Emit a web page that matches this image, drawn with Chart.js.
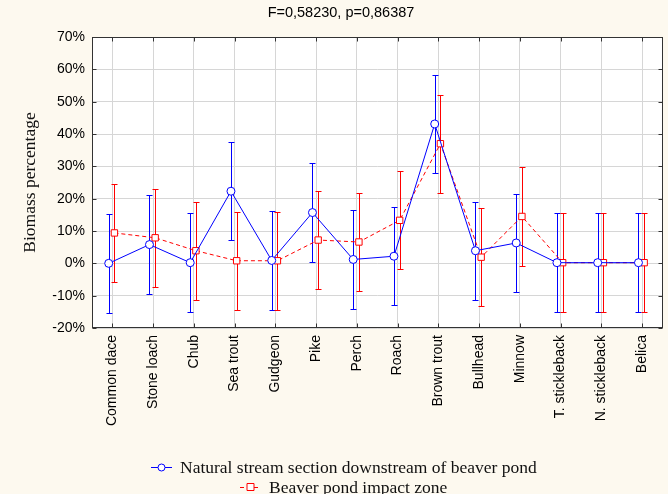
<!DOCTYPE html>
<html>
<head>
<meta charset="utf-8">
<script src="https://cdn.jsdelivr.net/npm/chart.js@4/dist/chart.umd.min.js"></script>
<style>
html, body { margin: 0; padding: 0; background: #fdf9ef; }
#wrap { width: 668px; height: 494px; position: relative; }
</style>
</head>
<body>
<div id="wrap"><canvas id="myChart"></canvas></div>
<script>
var titleText = 'F=0,58230, p=0,86387';
var species = ['Common dace', 'Stone loach', 'Chub', 'Sea trout', 'Gudgeon', 'Pike', 'Perch',
    'Roach', 'Brown trout', 'Bullhead', 'Minnow', 'T. stickleback', 'N. stickleback', 'Belica'];
// mean biomass percentage and +/- error
var natural = [0, 5.8, 0.2, 22.3, 0.9, 15.7, 1.2, 2.2, 43.1, 3.9, 6.3, 0.2, 0.2, 0.2];
var naturalErr = [15.3, 15.2, 15.3, 15.2, 15.2, 15.2, 15.2, 15.2, 15.2, 15.2, 15.2, 15.3, 15.3, 15.3];
var impact = [9.4, 7.9, 3.9, 0.8, 0.8, 7.2, 6.6, 13.3, 37.0, 1.9, 14.5, 0.2, 0.2, 0.2];
var impactErr = [15.2, 15.2, 15.2, 15.2, 15.2, 15.2, 15.2, 15.2, 15.2, 15.2, 15.2, 15.3, 15.3, 15.3];
var yMin = -20, yMax = 70, yStep = 10;

var sans = "'Liberation Sans', Arial, sans-serif";
var serif = "'Liberation Serif', 'Times New Roman', serif";

function pts(vals, shift) {
    return vals.map(function (v, i) { return { x: i + shift, y: v }; });
}

var chartBg = {
    id: 'chartBg',
    beforeDraw: function (chart) {
        var ctx = chart.ctx, a = chart.chartArea;
        ctx.save();
        ctx.fillStyle = '#fdf9ef';
        ctx.fillRect(0, 0, chart.width, chart.height);
        ctx.fillStyle = '#ffffff';
        ctx.fillRect(a.left, a.top, a.right - a.left, a.bottom - a.top);
        ctx.restore();
    }
};

var errorBars = {
    id: 'errorBars',
    beforeDatasetsDraw: function (chart) {
        var ctx = chart.ctx, xs = chart.scales.x, ys = chart.scales.y;
        chart.data.datasets.forEach(function (ds) {
            ctx.save();
            ctx.strokeStyle = ds.borderColor;
            ctx.lineWidth = 1;
            ds.data.forEach(function (p, i) {
                var px = Math.round(xs.getPixelForValue(p.x)) + 0.5;
                var top = Math.round(ys.getPixelForValue(p.y + ds.err[i])) + 0.5;
                var bot = Math.round(ys.getPixelForValue(p.y - ds.err[i])) + 0.5;
                ctx.beginPath();
                ctx.moveTo(px, top); ctx.lineTo(px, bot);
                ctx.moveTo(px - 3, top); ctx.lineTo(px + 3, top);
                ctx.moveTo(px - 3, bot); ctx.lineTo(px + 3, bot);
                ctx.stroke();
            });
            ctx.restore();
        });
    }
};

var frameAndText = {
    id: 'frameAndText',
    afterDraw: function (chart) {
        var ctx = chart.ctx, a = chart.chartArea, xs = chart.scales.x, ys = chart.scales.y;
        ctx.save();
        // frame with inward ticks
        ctx.strokeStyle = '#333333';
        ctx.lineWidth = 1;
        var l = Math.round(a.left) + 0.5, r = Math.round(a.right) - 0.5;
        var t = Math.round(a.top) + 0.5, b = Math.round(a.bottom) - 0.5;
        ctx.strokeRect(l, t, r - l, b - t);
        ctx.beginPath();
        species.forEach(function (s, i) {
            var px = Math.round(xs.getPixelForValue(i)) + 0.5;
            ctx.moveTo(px, t); ctx.lineTo(px, t + 4);
            ctx.moveTo(px, b); ctx.lineTo(px, b - 4);
        });
        for (var v = yMin; v <= yMax; v += yStep) {
            var py = Math.round(ys.getPixelForValue(v)) + 0.5;
            ctx.moveTo(l, py); ctx.lineTo(l + 4, py);
            ctx.moveTo(r, py); ctx.lineTo(r - 4, py);
        }
        ctx.stroke();

        // title
        ctx.fillStyle = '#000000';
        ctx.font = '14.5px ' + sans;
        ctx.textAlign = 'center';
        ctx.textBaseline = 'middle';
        ctx.fillText(titleText, 341, 13);

        // legend
        var ds = chart.data.datasets;
        var rows = [467, 487];
        ctx.font = '17.5px ' + serif;
        ctx.textAlign = 'left';
        ds.forEach(function (d, k) {
            var w = ctx.measureText(d.label).width;
            var x0 = Math.round(344 - (w + 29) / 2), y0 = rows[k];
            ctx.strokeStyle = d.borderColor;
            ctx.setLineDash(d.borderDash || []);
            ctx.beginPath();
            ctx.moveTo(x0, y0 + 0.5); ctx.lineTo(x0 + 21, y0 + 0.5);
            ctx.stroke();
            ctx.setLineDash([]);
            ctx.fillStyle = '#ffffff';
            ctx.beginPath();
            if (d.pointStyle === 'rect') {
                ctx.rect(x0 + 7, y0 - 3.5, 7, 7);
            } else {
                ctx.arc(x0 + 10.5, y0 + 0.5, 3.5, 0, Math.PI * 2);
            }
            ctx.fill();
            ctx.stroke();
            ctx.fillStyle = '#111111';
            ctx.fillText(d.label, x0 + 29, y0 + 1);
        });
        ctx.restore();
    }
};

var ctx = document.getElementById('myChart').getContext('2d');
var myChart = new Chart(ctx, {
    type: 'line',
    data: {
        datasets: [{
            label: 'Natural stream section downstream of beaver pond',
            data: pts(natural, -0.09),
            err: naturalErr,
            borderColor: '#0000ff',
            borderWidth: 1,
            backgroundColor: '#ffffff',
            pointStyle: 'circle',
            pointRadius: 4,
            pointBorderWidth: 1,
            pointBackgroundColor: '#ffffff',
            tension: 0
        }, {
            label: 'Beaver pond impact zone',
            data: pts(impact, 0.05),
            err: impactErr,
            borderColor: '#ff0000',
            borderWidth: 1,
            borderDash: [4, 3],
            backgroundColor: '#ffffff',
            pointStyle: 'rect',
            pointRadius: 4.5,
            pointBorderWidth: 1,
            pointBackgroundColor: '#ffffff',
            tension: 0
        }]
    },
    options: {
        responsive: true,
        maintainAspectRatio: false,
        animation: false,
        layout: { padding: { top: 37, right: 5, left: 0, bottom: 0 } },
        plugins: {
            legend: { display: false },
            title: { display: false },
            tooltip: { enabled: false }
        },
        scales: {
            x: {
                type: 'linear',
                min: -0.5,
                max: 13.5,
                afterBuildTicks: function (scale) {
                    scale.ticks = species.map(function (s, i) { return { value: i }; });
                },
                afterFit: function (scale) { scale.height = 494 - 328; },
                grid: { color: '#d6d6d6', drawTicks: false },
                border: { display: false },
                ticks: {
                    autoSkip: false,
                    maxRotation: 90,
                    minRotation: 90,
                    padding: 7,
                    color: '#000000',
                    font: { family: sans, size: 14 },
                    callback: function (v) { return species[v]; }
                }
            },
            y: {
                min: yMin,
                max: yMax,
                afterFit: function (scale) { scale.width = 92; },
                grid: { color: '#d6d6d6', drawTicks: false },
                border: { display: false },
                ticks: {
                    stepSize: yStep,
                    padding: 7,
                    color: '#000000',
                    font: { family: sans, size: 14 },
                    callback: function (v) { return v + '%'; }
                },
                title: {
                    display: true,
                    text: 'Biomass percentage',
                    color: '#111111',
                    font: { family: serif, size: 17.5 },
                    padding: { top: 20, bottom: 0 }
                }
            }
        }
    },
    plugins: [chartBg, errorBars, frameAndText]
});
</script>
</body>
</html>
